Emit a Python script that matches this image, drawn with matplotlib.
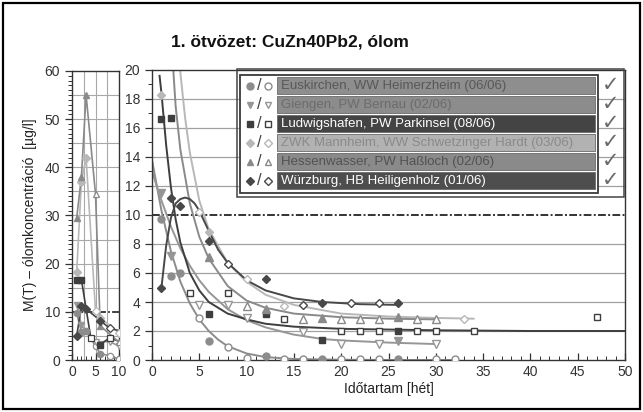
import matplotlib
matplotlib.use("Agg")
import numpy as np
import matplotlib.pyplot as plt
from matplotlib.patches import Rectangle
from matplotlib.ticker import MultipleLocator

plt.rcParams['font.family'] = ['Liberation Sans', 'DejaVu Sans']

# =========================
# measured values (week, µg/l)
# =========================
eus_t = [1, 2, 3, 5, 6, 8, 10, 12, 14, 16, 18, 20, 22, 24, 26, 30, 32]
eus_c = [9.7, 5.8, 6.0, 2.9, 1.3, 0.9, 0.15, 0.3, 0.1, 0.1, 0.1, 0.05, 0.05, 0.05, 0.1, 0.05, 0.1]
gie_t = [1, 2, 5, 8, 10, 16, 20, 24, 26, 30]
gie_c = [11.5, 7.2, 3.8, 3.8, 2.9, 1.9, 1.1, 1.1, 1.3, 1.1]
lud_t = [1, 2, 4, 6, 8, 12, 14, 18, 20, 22, 24, 26, 28, 30, 34, 47]
lud_c = [16.6, 16.7, 4.6, 3.2, 4.6, 3.2, 2.8, 1.4, 2.0, 2.0, 2.0, 2.0, 2.0, 2.0, 2.0, 3.0]
zwk_t = [1, 2, 3, 5, 6, 10, 14, 33]
zwk_c = [18.3, 37.0, 42.0, 10.2, 8.8, 5.6, 3.7, 2.8]
hes_t = [1, 2, 3, 5, 6, 10, 12, 16, 18, 20, 22, 24, 26, 28, 30]
hes_c = [29.5, 38.0, 55.0, 34.5, 7.1, 3.7, 3.5, 2.8, 2.9, 2.8, 2.8, 2.8, 3.0, 2.8, 2.8]
wue_t = [1, 2, 3, 6, 8, 12, 16, 18, 21, 24, 26]
wue_c = [5.0, 11.2, 10.6, 8.2, 6.6, 5.6, 3.8, 3.9, 3.9, 3.9, 3.9]

# weeks drawn with filled symbols, the rest open
filled_weeks = [1, 2, 3, 6, 12, 18, 26]

# =========================
# fitted curves
# =========================
eus_fit_t = [0, 1, 2, 3, 4, 5, 6, 7, 8, 10, 12, 15, 20, 26, 32]
eus_fit_c = [13.8, 10.3, 7.5, 5.4, 3.9, 2.8, 2.0, 1.4, 0.95, 0.45, 0.2, 0.07, 0.02, 0.0, 0.0]
gie_fit_t = [0, 1, 2, 3, 4, 5, 6, 8, 10, 12, 15, 18, 20, 25, 30]
gie_fit_c = [13.0, 11.0, 9.2, 7.7, 6.5, 5.5, 4.7, 3.5, 2.75, 2.25, 1.75, 1.45, 1.35, 1.2, 1.1]
lud_fit_t = [0.8, 1, 1.5, 2, 2.5, 3, 4, 5, 6, 8, 10, 12, 15, 20, 30, 40, 50]
lud_fit_c = [19.6, 18.4, 14.8, 11.9, 9.7, 8.1, 6.0, 4.8, 4.0, 3.2, 2.8, 2.5, 2.3, 2.15, 2.05, 2.0, 2.0]
zwk_fit_t = [2.8, 3, 3.5, 4, 5, 6, 8, 10, 12, 15, 20, 25, 30, 34]
zwk_fit_c = [21.5, 19.8, 16.7, 14.3, 11.0, 9.0, 6.7, 5.4, 4.5, 3.8, 3.2, 3.0, 2.9, 2.85]
hes_fit_t = [2.1, 2.5, 3, 4, 5, 6, 8, 10, 12, 15, 20, 25, 30]
hes_fit_c = [21.5, 17.5, 14.5, 10.8, 8.5, 7.0, 5.1, 4.1, 3.6, 3.2, 2.95, 2.85, 2.8]
wue_fit_t = [1, 1.5, 2, 2.5, 3, 3.5, 4, 4.5, 5, 6, 7, 8, 10, 12, 15, 18, 22, 26]
wue_fit_c = [5.0, 7.9, 9.8, 10.8, 11.1, 11.2, 11.1, 10.8, 10.3, 8.9, 7.6, 6.7, 5.5, 4.8, 4.25, 4.0, 3.85, 3.8]

labels = [
    "Euskirchen, WW Heimerzheim (06/06)",
    "Giengen, PW Bernau (02/06)",
    "Ludwigshafen, PW Parkinsel (08/06)",
    "ZWK Mannheim, WW Schwetzinger Hardt (03/06)",
    "Hessenwasser, PW Haßloch (02/06)",
    "Würzburg, HB Heiligenholz (01/06)",
]

series = [
    (eus_t, eus_c, eus_fit_t, eus_fit_c),
    (gie_t, gie_c, gie_fit_t, gie_fit_c),
    (lud_t, lud_c, lud_fit_t, lud_fit_c),
    (zwk_t, zwk_c, zwk_fit_t, zwk_fit_c),
    (hes_t, hes_c, hes_fit_t, hes_fit_c),
    (wue_t, wue_c, wue_fit_t, wue_fit_c),
]

colors = ["#8c8c8c", "#969696", "#3e3e3e", "#b8b8b8", "#8a8a8a", "#484848"]
markers = ["o", "v", "s", "D", "^", "D"]
msizes = [5, 5.5, 5, 4.2, 5.5, 4.2]
row_bg = ["#8e8e8e", "#8c8c8c", "#444444", "#b2b2b2", "#8a8a8a", "#4e4e4e"]
row_fg = ["#585858", "#6c6c6c", "#ffffff", "#8a8a8a", "#525252", "#ffffff"]

# =========================
# figure
# =========================
W, H = 643, 412
fig = plt.figure(figsize=(W / 100, H / 100), dpi=100)
fig.patches.append(Rectangle((3 / W, 3 / H), 637 / W, 406 / H, transform=fig.transFigure,
                             fill=False, edgecolor="black", linewidth=1.6))


def fax(x0, y0, x1, y1):
    return [x0 / W, 1 - y1 / H, (x1 - x0) / W, (y1 - y0) / H]


tick_col = "#333333"

ax = fig.add_axes(fax(152, 70, 625, 360))
axl = fig.add_axes(fax(72, 71, 119, 360))

for a in (ax, axl):
    for s in a.spines.values():
        s.set_color("#333333")
        s.set_linewidth(1.0)
    a.tick_params(axis="x", which="both", direction="in", colors=tick_col, labelsize=10)
    a.tick_params(axis="y", which="both", direction="out", colors=tick_col, labelsize=10)
    a.tick_params(which="major", length=5, width=0.9)
    a.tick_params(which="minor", length=3, width=0.7)

# ---- main axes ----
ax.set_xlim(0, 50)
ax.set_ylim(0, 20)
ax.xaxis.set_major_locator(MultipleLocator(5))
ax.xaxis.set_minor_locator(MultipleLocator(1))
ax.yaxis.set_major_locator(MultipleLocator(2))
ax.yaxis.set_minor_locator(MultipleLocator(1))
for yv in np.arange(2, 20, 2):
    if yv != 10:
        ax.axhline(yv, color="#a0a0a0", lw=0.9, zorder=0)
ax.axhline(10, color="#333333", lw=1.4, ls=(0, (4, 1.2, 1, 1.2)), zorder=1)

for (t, c, ft, fc), col, m, ms in zip(series, colors, markers, msizes):
    ax.plot(ft, fc, color=col, lw=1.4, zorder=2)
    t = np.array(t)
    c = np.array(c)
    f = np.isin(t, filled_weeks)
    ax.plot(t[f], c[f], ls="none", marker=m, ms=ms, mfc=col, mec=col, zorder=3)
    ax.plot(t[~f], c[~f], ls="none", marker=m, ms=ms, mfc="white", mec=col, mew=1.0, zorder=3)

ax.set_xlabel("Időtartam [hét]", fontsize=10, color="#222222", labelpad=2)

# ---- left overview axes ----
axl.set_xlim(0, 10)
axl.set_ylim(0, 60)
axl.xaxis.set_major_locator(MultipleLocator(5))
axl.xaxis.set_minor_locator(MultipleLocator(1))
axl.yaxis.set_major_locator(MultipleLocator(10))
axl.yaxis.set_minor_locator(MultipleLocator(1))
for yv in np.arange(5, 60, 5):
    if yv != 10:
        axl.axhline(yv, color="#a8a8a8", lw=0.8, zorder=0)
for xv in (2.5, 5, 7.5):
    axl.axvline(xv, color="#a8a8a8", lw=0.8, zorder=0)
axl.axhline(10, color="#333333", lw=1.3, ls=(0, (4, 1.2, 1, 1.2)), zorder=1)

for (t, c, ft, fc), col, m, ms in zip(series, colors, markers, msizes):
    t = np.array(t)
    c = np.array(c)
    f = np.isin(t, filled_weeks)
    axl.plot(t, c, color=col, lw=1.2, zorder=2)
    axl.plot(t[f], c[f], ls="none", marker=m, ms=ms - 0.5, mfc=col, mec=col, zorder=3)
    axl.plot(t[~f], c[~f], ls="none", marker=m, ms=ms - 0.5, mfc="white", mec=col, mew=0.9, zorder=3)

fig.text(30 / W, 1 - 215 / H, "M(T) – ólomkoncentráció  [µg/l]", rotation=90,
         ha="center", va="center", fontsize=10, color="#222222")

fig.text(290 / W, 1 - 42 / H, "1. ötvözet: CuZn40Pb2, ólom", ha="center", va="center",
         fontsize=12.5, fontweight="bold", color="#111111")

# ---- legend block (pixel coordinates) ----
lg = fig.add_axes(fax(236, 68, 626, 198))
lg.set_xlim(236, 626)
lg.set_ylim(198, 68)
lg.axis("off")
lg.patch.set_alpha(0)
lg.add_patch(Rectangle((237, 69), 387, 128, fill=False, edgecolor="#444444", lw=1.1))
lg.add_patch(Rectangle((240, 75), 358, 118, facecolor="white", edgecolor="#3a3a3a", lw=1.3))

for i, (lab, col, m, bg, fg) in enumerate(zip(labels, colors, markers, row_bg, row_fg)):
    top = 77.5 + 19 * i
    yc = top + 8.5
    lg.add_patch(Rectangle((277, top), 318, 17, facecolor=bg, edgecolor="#6a6a6a", lw=0.6))
    lg.text(281, yc + 0.5, lab, ha="left", va="center", fontsize=9.5, color=fg)
    lg.plot([250], [yc], marker=m, ms=5 if m != "D" else 4.2, mfc=col, mec=col, ls="none")
    lg.text(259, yc, "/", ha="center", va="center", fontsize=12, color="#444444")
    lg.plot([268], [yc], marker=m, ms=5 if m != "D" else 4.2, mfc="white", mec=col, mew=1.0, ls="none")
    lg.text(611, yc, "✓", ha="center", va="center", fontsize=15, color="#6a6a6a")

fig.savefig("out.png", dpi=100)
